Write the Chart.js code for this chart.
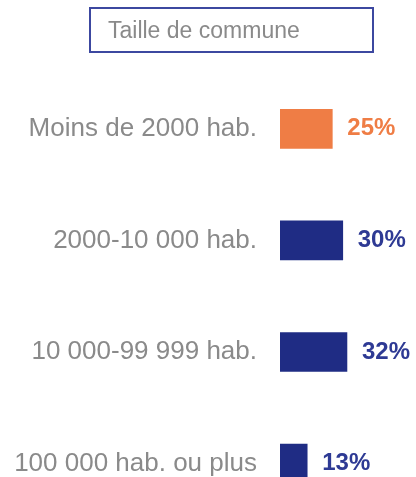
<!DOCTYPE html>
<html>
<head>
<meta charset="utf-8">
<script src="https://cdn.jsdelivr.net/npm/chart.js@4"></script>
<style>
  html, body { margin: 0; padding: 0; background: #fff; overflow: hidden; }
  #wrap { position: relative; width: 416px; height: 477px; overflow: hidden; }
  #legendBox {
    position: absolute; left: 89px; top: 7px; height: 42px; width: 264px;
    border: 2px solid #3c48a0; box-sizing: content-box;
    font-family: "Liberation Sans", Arial, sans-serif; font-size: 23px; color: #8a8a8a;
    line-height: 42px; padding-left: 17px;
  }
  #communeChart { position: absolute; left: 0; top: 0; }
</style>
</head>
<body>
<div id="wrap">
  <canvas id="communeChart" width="416" height="558"></canvas>
  <div id="legendBox">Taille de commune</div>
</div>
<script>
const categories = ['Moins de 2000 hab.', '2000-10 000 hab.', '10 000-99 999 hab.', '100 000 hab. ou plus'];
const shares = [25, 30, 32, 13];
const barColors = ['#ef7d45', '#1f2c84', '#1f2c84', '#1f2c84'];
const valueColors = ['#ef7d45', '#2e3a94', '#2e3a94', '#2e3a94'];

// draws "25%" etc. just right of each bar
const valueLabels = {
  id: 'valueLabels',
  afterDatasetsDraw(chart) {
    const ctx = chart.ctx;
    const meta = chart.getDatasetMeta(0);
    ctx.save();
    ctx.font = 'bold 24px "Liberation Sans", Arial, sans-serif';
    ctx.textAlign = 'left';
    ctx.textBaseline = 'middle';
    meta.data.forEach((bar, i) => {
      ctx.fillStyle = valueColors[i];
      ctx.fillText(shares[i] + '%', bar.x + 15, bar.y);
    });
    ctx.restore();
  }
};

new Chart(document.getElementById('communeChart'), {
  type: 'bar',
  data: {
    labels: categories,
    datasets: [{
      data: shares,
      backgroundColor: barColors,
      borderWidth: 0,
      barThickness: 39
    }]
  },
  options: {
    indexAxis: 'y',
    responsive: false,
    animation: false,
    layout: { padding: { top: 73, bottom: 13, left: 0, right: 0 } },
    plugins: {
      legend: { display: false },
      tooltip: { enabled: false }
    },
    scales: {
      x: {
        display: false,
        min: 0,
        max: 65
      },
      y: {
        grid: { display: false, drawTicks: false },
        border: { display: false },
        ticks: {
          padding: 23,
          color: '#8a8a8a',
          font: { family: '"Liberation Sans", Arial, sans-serif', size: 26 }
        },
        afterFit(scale) { scale.width = 280; }
      }
    }
  },
  plugins: [valueLabels]
});
</script>
</body>
</html>
